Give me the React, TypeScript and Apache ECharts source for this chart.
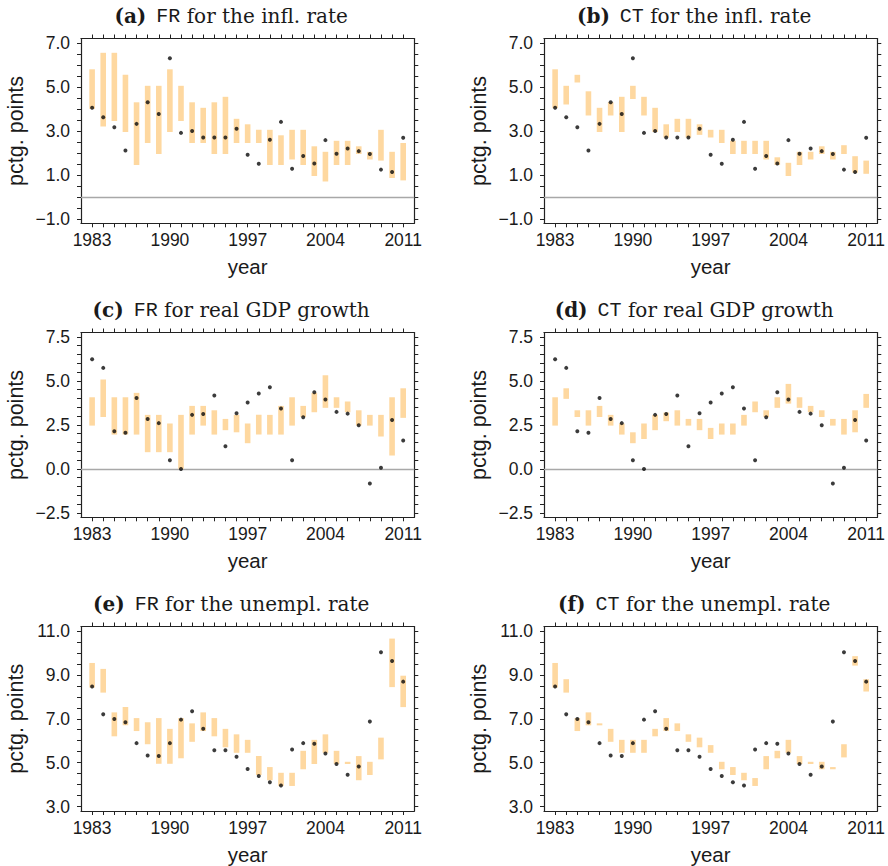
import React, { useEffect, useRef } from "react";
import * as echarts from "echarts";

// ---------- data ----------
const years = [
  1983, 1984, 1985, 1986, 1987, 1988, 1989, 1990, 1991, 1992, 1993, 1994, 1995, 1996, 1997,
  1998, 1999, 2000, 2001, 2002, 2003, 2004, 2005, 2006, 2007, 2008, 2009, 2010, 2011,
];
const yearTickLabels = [1983, 1990, 1997, 2004, 2011];

// realised values (dots)
const actualInfl = [
  4.05, 3.62, 3.17, 2.11, 3.32, 4.3, 3.77, 6.3, 2.91, 3.0, 2.7, 2.7, 2.7, 3.1, 1.92, 1.51, 2.6,
  3.41, 1.28, 1.86, 1.52, 2.58, 1.96, 2.2, 2.08, 1.95, 1.24, 1.13, 2.69,
];
const actualGdp = [
  6.23, 5.74, 2.14, 2.05, 4.03, 2.84, 2.6, 0.49, 0.0, 3.07, 3.12, 4.17, 1.29, 3.16, 3.77, 4.28,
  4.64, 3.43, 0.49, 2.94, 4.36, 3.94, 3.24, 3.14, 2.48, -0.83, 0.06, 2.78, 1.61,
];
const actualUnemp = [
  8.47, 7.2, 6.99, 6.84, 5.89, 5.33, 5.3, 5.89, 6.96, 7.34, 6.54, 5.57, 5.57, 5.27, 4.71, 4.39,
  4.11, 3.96, 5.6, 5.89, 5.86, 5.42, 4.94, 4.45, 4.83, 6.87, 10.03, 9.63, 8.69,
];

// (a) FR, inflation
const frInflLow = [
  4.0, 3.2, 3.45, 2.95, 1.45, 2.45, 1.95, 2.95, 3.45, 2.45, 2.45, 1.95, 1.95, 2.45, 2.45, 2.45,
  1.45, 1.45, 1.7, 1.45, 0.95, 0.7, 1.45, 1.45, 1.95, 1.7, 1.65, 0.86, 0.75,
];
const frInflHigh = [
  5.8, 6.55, 6.55, 5.55, 4.3, 5.05, 5.05, 5.8, 5.05, 4.3, 4.05, 4.3, 4.55, 3.55, 3.3, 3.05, 3.05,
  2.8, 3.05, 3.05, 2.3, 2.05, 2.55, 2.55, 2.3, 2.05, 3.05, 2.05, 2.45,
];
// (b) CT, inflation
const ctInflLow = [
  4.03, 4.2, 5.2, 3.7, 2.95, 3.7, 2.95, 4.45, 3.7, 2.95, 2.7, 2.95, 2.7, 2.82, 2.7, 2.45, 1.95,
  1.95, 1.95, 1.7, 1.45, 0.95, 1.45, 1.7, 1.95, 1.7, 1.95, 1.1, 1.05,
];
const ctInflHigh = [
  5.8, 5.05, 5.55, 4.8, 4.05, 4.3, 4.55, 5.05, 4.55, 4.05, 3.3, 3.55, 3.55, 3.3, 3.05, 3.05, 2.55,
  2.55, 2.55, 2.55, 1.8, 1.55, 2.05, 2.05, 2.3, 2.05, 2.35, 1.85, 1.65,
];
// (c) FR, GDP growth
const frGdpLow = [
  2.46, 2.95, 1.95, 1.95, 1.95, 0.95, 0.95, 0.95, 0.0, 1.95, 2.46, 1.95, 2.2, 2.08, 1.46, 1.95,
  1.95, 1.95, 2.46, 2.95, 3.22, 3.47, 3.47, 3.22, 2.46, 2.46, 1.84, 0.76, 2.9,
];
const frGdpHigh = [
  4.07, 5.08, 4.07, 4.07, 4.32, 3.07, 3.07, 2.58, 3.07, 3.58, 3.58, 3.33, 2.84, 3.07, 2.58, 3.07,
  3.07, 3.58, 4.07, 3.58, 4.32, 5.32, 4.07, 3.83, 3.33, 3.07, 3.07, 4.07, 4.58,
];
// (d) CT, GDP growth
const ctGdpLow = [
  2.46, 3.98, 2.95, 2.46, 2.95, 2.46, 1.95, 1.46, 1.7, 2.2, 2.71, 2.46, 2.46, 2.2, 1.7, 1.95,
  1.95, 2.46, 3.22, 2.95, 3.47, 3.71, 3.47, 3.22, 2.95, 2.46, 1.95, 2.08, 3.47,
];
const ctGdpHigh = [
  4.07, 4.58, 3.33, 3.33, 3.58, 3.07, 2.58, 2.08, 2.58, 3.07, 3.2, 3.33, 2.84, 2.84, 2.33, 2.58,
  2.58, 3.07, 3.83, 3.33, 4.07, 4.83, 4.07, 3.58, 3.33, 2.84, 2.84, 3.33, 4.26,
];
// (e) FR, unemployment
const frUnempLow = [
  8.42, 8.19, 6.2, 6.7, 6.44, 5.84, 4.95, 4.95, 5.2, 5.95, 6.44, 6.2, 5.7, 5.45, 5.45, 4.44, 4.2,
  3.94, 3.94, 4.7, 4.94, 5.45, 4.95, 4.94, 4.2, 4.44, 5.15, 8.44, 7.53,
];
const frUnempHigh = [
  9.54, 9.27, 7.29, 7.53, 7.03, 6.84, 7.03, 6.54, 7.03, 6.79, 7.29, 7.03, 6.54, 6.29, 6.04, 5.3,
  4.8, 4.54, 4.54, 5.54, 6.04, 6.29, 5.54, 5.04, 5.3, 5.04, 6.14, 10.65, 8.96,
];
// (f) CT, unemployment
const ctUnempLow = [
  8.42, 8.19, 6.44, 6.7, 6.7, 5.95, 5.45, 5.45, 5.45, 6.2, 6.44, 6.44, 5.95, 5.7, 5.45, 4.7, 4.44,
  4.2, 3.94, 4.7, 5.2, 5.45, 4.94, 4.94, 4.7, 4.7, 5.24, 9.42, 8.24,
];
const ctUnempHigh = [
  9.54, 8.8, 7.03, 7.29, 6.79, 6.54, 6.04, 6.04, 6.04, 6.54, 7.03, 6.79, 6.29, 6.14, 5.8, 5.04,
  4.8, 4.54, 4.3, 5.3, 5.54, 6.04, 5.3, 5.04, 5.04, 4.8, 5.84, 9.85, 8.8,
];

// tick labels
const inflTickLabels = [-1, 1, 3, 5, 7];
const gdpTickLabels = [-2.5, 0, 2.5, 5, 7.5];
const unempTickLabels = [3, 5, 7, 9, 11];

// ---------- styling ----------
const BAR_COLOR = "#FED8A0";
const DOT_COLOR = "#0a0a0a";
const AXIS_COLOR = "#222222";
const TEXT_COLOR = "#1a1a1a";
const SANS = "'Liberation Sans', Arial, Helvetica, sans-serif";
const SERIF = "'DejaVu Serif', serif";
const MONO = "'Liberation Mono', 'DejaVu Sans Mono', monospace";

interface Panel {
  letter: string;
  method: string;
  desc: string;
  low: number[];
  high: number[];
  actual: number[];
  yMin: number;
  yMax: number;
  labels: number[];
  zeroLine: boolean;
}

const panels: Panel[] = [
  { letter: "(a)", method: "FR", desc: "for the infl. rate", low: frInflLow, high: frInflHigh, actual: actualInfl, yMin: -1.2, yMax: 7.2, labels: inflTickLabels, zeroLine: true },
  { letter: "(b)", method: "CT", desc: "for the infl. rate", low: ctInflLow, high: ctInflHigh, actual: actualInfl, yMin: -1.2, yMax: 7.2, labels: inflTickLabels, zeroLine: true },
  { letter: "(c)", method: "FR", desc: "for real GDP growth", low: frGdpLow, high: frGdpHigh, actual: actualGdp, yMin: -2.75, yMax: 7.75, labels: gdpTickLabels, zeroLine: true },
  { letter: "(d)", method: "CT", desc: "for real GDP growth", low: ctGdpLow, high: ctGdpHigh, actual: actualGdp, yMin: -2.75, yMax: 7.75, labels: gdpTickLabels, zeroLine: true },
  { letter: "(e)", method: "FR", desc: "for the unempl. rate", low: frUnempLow, high: frUnempHigh, actual: actualUnemp, yMin: 2.8, yMax: 11.2, labels: unempTickLabels, zeroLine: false },
  { letter: "(f)", method: "CT", desc: "for the unempl. rate", low: ctUnempLow, high: ctUnempHigh, actual: actualUnemp, yMin: 2.8, yMax: 11.2, labels: unempTickLabels, zeroLine: false },
];

const GRID_LEFTS = [81, 544];
const GRID_TOPS = [38.5, 332.5, 626.5];
const GRID_W = 333.3;
const GRID_H = 184.8;

function minorTicks(labels: number[]): number[] {
  const out: number[] = [];
  const lo = labels[0];
  const hi = labels[labels.length - 1];
  for (let v = lo; v <= hi + 1e-9; v += 0.5) out.push(Math.round(v * 100) / 100);
  return out;
}

function fmtY(v: number): string {
  return v.toFixed(1).replace("-", "\u2212");
}

function buildOption() {
  const grid: any[] = [];
  const xAxis: any[] = [];
  const yAxis: any[] = [];
  const series: any[] = [];
  const graphic: any[] = [];

  panels.forEach((p, i) => {
    const col = i % 2;
    const row = Math.floor(i / 2);
    const left = GRID_LEFTS[col];
    const top = GRID_TOPS[row];
    grid.push({ left, top, width: GRID_W, height: GRID_H, containLabel: false });

    const lineStyle = { color: AXIS_COLOR, width: 1.2 };
    const tickStyle = { color: AXIS_COLOR, width: 1 };

    xAxis.push({
      type: "value",
      gridIndex: i,
      position: "bottom",
      min: 1982,
      max: 2012,
      axisLine: { show: true, onZero: false, lineStyle },
      axisTick: { show: true, length: 4, customValues: years, lineStyle: tickStyle },
      axisLabel: {
        show: true,
        customValues: yearTickLabels,
        formatter: (v: number) => String(v),
        margin: 8,
        fontSize: 17.5,
        fontFamily: SANS,
        color: TEXT_COLOR,
      },
      splitLine: { show: false },
      name: "year",
      nameLocation: "middle",
      nameGap: 33,
      nameTextStyle: { fontSize: 20.5, fontFamily: SANS, color: TEXT_COLOR },
    });
    xAxis.push({
      type: "value",
      gridIndex: i,
      position: "top",
      min: 1982,
      max: 2012,
      axisLine: { show: true, onZero: false, lineStyle },
      axisTick: { show: true, length: 4, customValues: years, lineStyle: tickStyle },
      axisLabel: { show: false },
      splitLine: { show: false },
    });

    const ticks = minorTicks(p.labels);
    yAxis.push({
      type: "value",
      gridIndex: i,
      position: "left",
      min: p.yMin,
      max: p.yMax,
      axisLine: { show: true, onZero: false, lineStyle },
      axisTick: { show: true, length: 4, customValues: ticks, lineStyle: tickStyle },
      axisLabel: {
        show: true,
        customValues: p.labels,
        formatter: (v: number) => fmtY(v),
        margin: 11,
        fontSize: 17.5,
        fontFamily: SANS,
        color: TEXT_COLOR,
      },
      splitLine: { show: false },
      name: "pctg. points",
      nameLocation: "middle",
      nameRotate: 90,
      nameGap: 54,
      nameTextStyle: { fontSize: 21.5, fontFamily: SANS, color: TEXT_COLOR },
    });
    yAxis.push({
      type: "value",
      gridIndex: i,
      position: "right",
      min: p.yMin,
      max: p.yMax,
      axisLine: { show: true, onZero: false, lineStyle },
      axisTick: { show: true, length: 4, customValues: ticks, lineStyle: tickStyle },
      axisLabel: { show: false },
      splitLine: { show: false },
    });

    const barData = years.map((yr, k) => [yr, p.low[k], p.high[k]]);
    const dotData = years.map((yr, k) => [yr, p.actual[k]]);

    series.push({
      type: "custom",
      xAxisIndex: 2 * i,
      yAxisIndex: 2 * i,
      data: barData,
      encode: { x: 0, y: [1, 2] },
      silent: true,
      z: 2,
      renderItem: (params: any, api: any) => {
        const x = api.value(0);
        const lo = api.value(1);
        const hi = api.value(2);
        const pTop = api.coord([x, hi]);
        const pBot = api.coord([x, lo]);
        const w = 5.6;
        return {
          type: "rect",
          shape: { x: pTop[0] - w / 2, y: pTop[1], width: w, height: Math.max(pBot[1] - pTop[1], 1) },
          style: { fill: BAR_COLOR },
        };
      },
      markLine: p.zeroLine
        ? {
            silent: true,
            symbol: "none",
            label: { show: false },
            lineStyle: { color: "#a8a8a8", width: 1.3, type: "solid" },
            data: [{ yAxis: 0 }],
            z: 1,
          }
        : undefined,
    });
    series.push({
      type: "scatter",
      xAxisIndex: 2 * i,
      yAxisIndex: 2 * i,
      data: dotData,
      symbol: "circle",
      symbolSize: 4,
      itemStyle: { color: DOT_COLOR },
      silent: true,
      z: 3,
    });

    graphic.push({
      type: "text",
      x: left + GRID_W / 2 - 16.5,
      y: top - 22.5,
      style: {
        text: `{b|${p.letter}}{m|${p.method}} {s|${p.desc}}`,
        rich: {
          b: { fontFamily: SERIF, fontWeight: "bold", fontSize: 20, fill: TEXT_COLOR, padding: [0, 10, 0, 0] },
          m: { fontFamily: MONO, fontSize: 20, fill: TEXT_COLOR },
          s: { fontFamily: SERIF, fontSize: 20, fill: TEXT_COLOR },
        },
        fontFamily: SERIF,
        fontSize: 20,
        fill: TEXT_COLOR,
        align: "center",
        verticalAlign: "middle",
      },
    });
  });

  return {
    animation: false,
    backgroundColor: "#ffffff",
    grid,
    xAxis,
    yAxis,
    series,
    graphic,
  };
}

export default function App() {
  const ref = useRef<HTMLDivElement>(null);
  useEffect(() => {
    if (!ref.current) return;
    const chart = echarts.init(ref.current, undefined, { renderer: "svg" });
    chart.setOption(buildOption() as any);
    return () => chart.dispose();
  }, []);
  return (
    <div
      ref={ref}
      style={{ position: "absolute", left: 0, top: 0, width: 888, height: 866, background: "#fff" }}
    />
  );
}
